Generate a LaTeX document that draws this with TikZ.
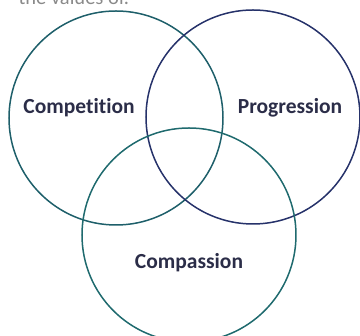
\documentclass[tikz,border=0pt]{standalone}
\usepackage{fontspec}
\setmainfont{Carlito}[Ligatures=NoCommon]
\definecolor{tealc}{HTML}{1E5F6A}
\definecolor{navyc}{HTML}{26326A}
\definecolor{tealb}{HTML}{1F6A6E}
\definecolor{labelc}{HTML}{2B2D48}
\definecolor{grayt}{HTML}{8A8A8A}
\begin{document}
\begin{tikzpicture}[x=1pt,y=1pt,
  ring/.style={draw, line width=1.5pt, circle, minimum size=214pt, inner sep=0pt},
  lbl/.style={font=\bfseries\fontsize{21.5}{24}\selectfont, text=labelc},
  top/.style={font=\fontsize{20.5}{24}\selectfont, text=grayt, anchor=base west}]
\useasboundingbox (0,0) rectangle (360,336);
\clip (0,0) rectangle (360,336);
\node[top] (t) at (15,331) {the values of.};
\node[ring, tealc] (c1) at (116,218) {};
\node[ring, navyc] (c2) at (253,219) {};
\node[ring, tealb] (c3) at (189,101) {};
\node[lbl] (l1) at (79,228) {Competition};
\node[lbl] (l2) at (290,228) {Progression};
\node[lbl] (l3) at (189,73) {Compassion};
\end{tikzpicture}
\end{document}
